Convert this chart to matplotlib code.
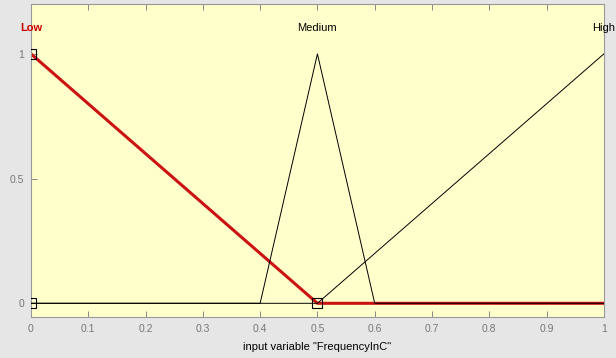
import matplotlib
matplotlib.use("Agg")
import matplotlib.pyplot as plt
import numpy as np

plt.rcParams['font.family'] = ['Liberation Sans Narrow', 'Liberation Sans', 'DejaVu Sans']

# membership function definitions (x, y vertices)
low_x = [0.0, 0.5, 1.0]
low_y = [1.0, 0.0, 0.0]
medium_x = [0.0, 0.4, 0.5, 0.6, 1.0]
medium_y = [0.0, 0.0, 1.0, 0.0, 0.0]
high_x = [0.0, 0.5, 1.0]
high_y = [0.0, 0.0, 1.0]

mf_names = ["Low", "Medium", "High"]
mf_label_x = [0.0, 0.5, 1.0]
mf_colors = ["#cc0000", "black", "black"]

marker_x = [0.0, 0.0, 0.5]
marker_y = [1.0, 0.0, 0.0]

xticks = [0, 0.1, 0.2, 0.3, 0.4, 0.5, 0.6, 0.7, 0.8, 0.9, 1]
xticklabels = ["0", "0.1", "0.2", "0.3", "0.4", "0.5", "0.6", "0.7", "0.8", "0.9", "1"]
yticks = [0, 0.5, 1]
yticklabels = ["0", "0.5", "1"]

fig = plt.figure(figsize=(6.16, 3.58), dpi=100, facecolor="#e6e6e6")
ax = fig.add_axes([0.0503, 0.1145, 0.930, 0.8743])
ax.set_facecolor("#ffffcc")

# thin black lines for unselected MFs
ax.plot(medium_x, medium_y, color="black", lw=0.7, zorder=3)
ax.plot(high_x, high_y, color="black", lw=0.7, zorder=3)
# selected MF in thick red
ax.plot(low_x, low_y, color="#cc1111", lw=2.2, zorder=2)
ax.plot(marker_x, marker_y, ls="none", marker="s", ms=6.5, mfc="none", mec="black", mew=0.8, zorder=4)

for name, x, c in zip(mf_names, mf_label_x, mf_colors):
    ax.text(x, 1.105, name, ha="center", va="center", fontsize=8, color=c,
            fontweight="bold" if name == "Low" else "normal", clip_on=False)

ax.set_xlim(0, 1)
ax.set_ylim(-0.055, 1.2)
ax.set_xticks(xticks)
ax.set_xticklabels(xticklabels)
ax.set_yticks(yticks)
ax.set_yticklabels(yticklabels)
ax.tick_params(direction="in", top=True, right=False, length=4, width=0.7,
               colors="#888888", labelsize=7.5, labelcolor="#777777", pad=5)
for s in ax.spines.values():
    s.set_color("#999999")
    s.set_linewidth(0.8)
ax.set_xlabel('input variable "FrequencyInC"', fontsize=8, color="black", labelpad=6)

fig.savefig("out.png", dpi=100, facecolor=fig.get_facecolor())
